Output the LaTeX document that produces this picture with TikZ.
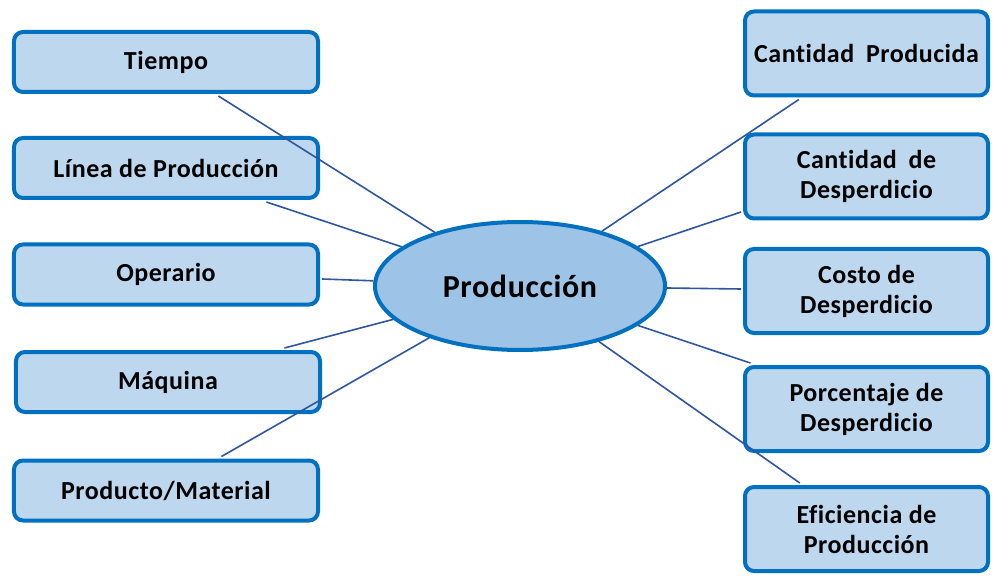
\documentclass[tikz,border=0pt]{standalone}
\usepackage{fontspec}
\setmainfont{Carlito}
\newfontfamily\boxfont[LetterSpace=2,Ligatures=CommonOff]{Carlito}
\newfontfamily\ellfont[LetterSpace=2,Ligatures=CommonOff]{Carlito}
\usetikzlibrary{shapes.geometric,calc}
\definecolor{boxfill}{HTML}{BDD7EE}
\definecolor{boxline}{HTML}{0070C0}
\definecolor{ellfill}{HTML}{9DC3E6}
\definecolor{conncol}{HTML}{2F55A0}
\tikzset{
  lbox/.style={draw=boxline, fill=boxfill, line width=4bp, rounded corners=9bp,
    minimum width=304bp, minimum height=60bp, inner sep=0pt, align=center,
    font=\boxfont\fontsize{26bp}{30bp}\selectfont\bfseries},
  rbox/.style={lbox, minimum width=243bp, minimum height=84bp},
  central/.style={ellipse, draw=boxline, fill=ellfill, line width=4bp,
    minimum width=290bp, minimum height=128bp, inner sep=0pt,
    font=\ellfont\fontsize{32bp}{36bp}\selectfont\bfseries},
  conn/.style={draw=conncol, line width=1.6bp}
}
\begin{document}
\begin{tikzpicture}[x=1bp,y=-1bp]
\useasboundingbox (0,0) rectangle (999,587);
% left
\node[lbox] (tiempo) at (166,62) {Tiempo};
\node[lbox] (linea) at (166,168) {Línea de Producción};
\node[lbox] (operario) at (166,274.5) {Operario};
\node[lbox] (maquina) at (168,382) {Máquina};
\node[lbox] (producto) at (166,490.5) {Producto/Material};
% right
\node[rbox] (cprod) at (866.5,53.5) {Cantidad\hspace{0.45em}Producida};
\node[rbox] (cdesp) at (866.5,176.5) {Cantidad\hspace{0.45em}de\\Desperdicio};
\node[rbox] (costo) at (866.5,291) {Costo de\\Desperdicio};
\node[rbox] (porc) at (866.5,409) {Porcentaje de\\Desperdicio};
\node[rbox] (efic) at (866.5,529) {Eficiencia de\\Producción};
% center
\node[central] (prod) at (520,286) {Producción};
% anchor points (on the outer edge of each border)
\coordinate (a1) at ($(tiempo.south west)!0.67!(tiempo.south east)+(0,2)$);
\coordinate (a2) at ($(linea.south west)!0.826!(linea.south east)+(0,2)$);
\coordinate (a3) at ($(operario.east)+(2,4.5)$);
\coordinate (a4) at ($(maquina.north west)!0.878!(maquina.north east)+(0,-2)$);
\coordinate (a5) at ($(producto.north west)!0.68!(producto.north east)+(0,-2)$);
\coordinate (b1) at ($(cprod.south west)!0.226!(cprod.south east)+(0,2)$);
\coordinate (b2) at ($(cdesp.west)+(-2,35.5)$);
\coordinate (b3) at ($(costo.west)+(-2,-2)$);
\coordinate (b4) at ($(porc.north west)!0.03!(porc.north east)+(0,-2)$);
\coordinate (b5) at ($(efic.north west)!0.23!(efic.north east)+(0,-2)$);
\foreach \p in {a1,a2,a3,a4,a5,b1,b2,b3,b4,b5}
  \draw[conn] (\p) -- (prod);
\end{tikzpicture}
\end{document}
